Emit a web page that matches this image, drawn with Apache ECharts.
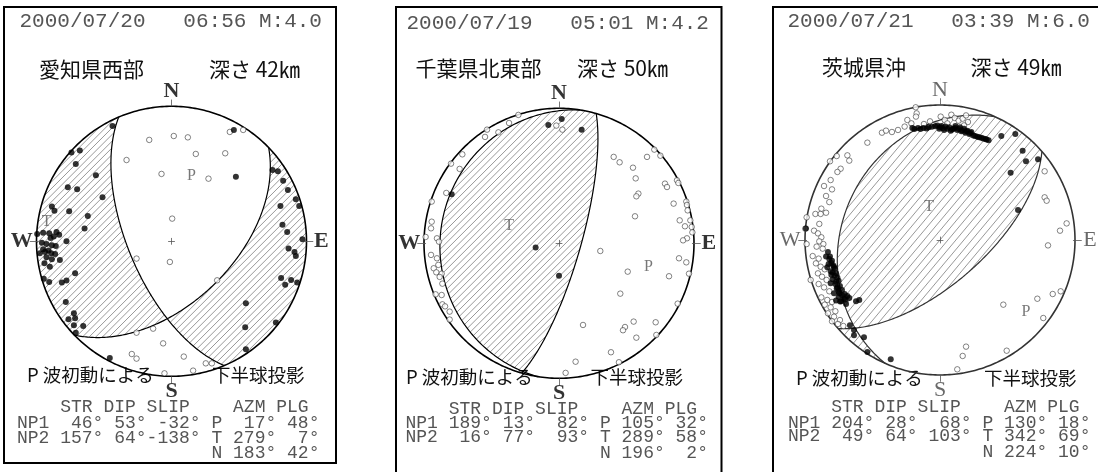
<!DOCTYPE html>
<html><head><meta charset="utf-8">
<script src="https://cdn.jsdelivr.net/npm/echarts@6/dist/echarts.min.js"></script>
<style>html,body{margin:0;padding:0;background:#fff}#c{width:1098px;height:472px}</style>
</head><body><div id="c"></div>
<script>
// ---------- DATA ----------
const dates   = ['2000/07/20', '2000/07/19', '2000/07/21'];
const times   = ['06:56', '05:01', '03:39'];
const mags    = ['4.0', '4.2', '6.0'];
const regions = ['愛知県西部', '千葉県北東部', '茨城県沖'];
const depths  = [42, 50, 49];
// nodal planes [strike, dip, slip]
const np1 = [[46, 53, -32], [189, 13, 82], [204, 28, 68]];
const np2 = [[157, 64, -138], [16, 77, 93], [49, 64, 103]];
// principal axes [azimuth, plunge]
const pAxis = [[17, 48], [105, 32], [130, 18]];
const tAxis = [[279, 7], [289, 58], [342, 69]];
const nAxis = [[183, 42], [196, 2], [224, 10]];
const dirLabels = ['N', 'E', 'S', 'W'];
const tableHead = '    STR DIP SLIP    AZM PLG';
const bottomLeft = 'P 波初動による';
const bottomRight = '下半球投影';

// first-motion observations in projection units (circle radius = 1)
const up1 = [[0.462,0.825],[0.477,0.479],[-0.437,0.854],[-0.741,0.657],[-0.679,0.672],[-0.709,0.573],[-0.560,0.489],
[-0.768,0.400],[-0.699,0.385],[-0.511,0.326],[-0.886,0.257],[-0.867,0.227],[-0.758,0.222],[-0.620,0.188],[-0.644,0.094],
[-0.995,0.054],[-0.951,0.064],[-0.906,0.059],[-0.852,0.069],[-0.832,0.049],[-0.872,0.035],[-0.896,0.025],[-0.960,-0.010],
[-0.926,-0.020],[-0.886,-0.030],[-0.857,-0.035],[-0.951,-0.059],[-0.975,-0.089],[-0.936,-0.079],[-0.911,-0.069],[-0.891,-0.089],
[-0.862,-0.094],[-0.827,-0.138],[-0.926,-0.119],[-0.886,-0.133],[-0.941,-0.163],[-0.901,-0.188],[-0.778,0.000],[-0.946,-0.277],
[-0.906,-0.301],[-0.812,-0.306],[-0.778,-0.291],[-0.714,-0.237],[-0.783,-0.449],[-0.763,-0.578],[-0.723,-0.533],[-0.714,-0.570],
[-0.723,-0.622],[-0.654,-0.627],[-0.709,-0.677],[-0.457,-0.864],
[0.748,0.528],[0.788,0.519],[0.827,0.449],[0.862,0.380],[0.921,0.311],[0.946,0.262],[0.807,0.262],[0.822,0.123],[0.857,0.069],
[0.970,0.015],[0.867,-0.054],[0.911,-0.079],[0.921,-0.109],[0.812,-0.272],[0.842,-0.321],[0.886,-0.286],[0.931,-0.306],
[0.551,-0.459],[0.773,-0.602],[0.546,-0.637],[0.551,-0.800]];
const down1 = [[-0.165,0.751],[0.017,0.780],[0.121,0.770],[-0.333,0.602],[0.180,0.647],[0.398,0.652],[-0.074,0.499],[0.274,0.464],
[0.005,0.168],[-0.012,-0.153],[-0.259,-0.128],[0.338,-0.289],[0.432,0.810],[0.531,0.825],[-0.259,-0.677],[-0.136,-0.647],
[-0.062,-0.756],[-0.294,-0.835],[-0.259,-0.869],[0.091,-0.854],[0.254,-0.904],[0.299,-0.904],[-0.052,-0.978],[0.160,-0.958]];

const up2 = [[-0.079,0.877],[0.020,0.921],[0.168,0.842],[-0.795,0.363],[-0.173,-0.032],[0.000,-0.240]];
const down2 = [[-0.301,0.951],[-0.370,0.891],[-0.533,0.842],[-0.449,0.822],[-0.548,0.788],[-0.716,0.659],[-0.800,0.590],
[-0.736,0.551],[-0.835,0.373],[-0.943,0.309],[-0.943,0.160],[-0.948,0.111],[-0.988,0.047],[-0.904,0.037],[-0.889,0.012],
[-0.948,-0.086],[-0.904,-0.111],[-0.894,-0.160],[-0.928,-0.185],[-0.909,-0.215],[-0.869,-0.225],[-0.884,-0.249],[-0.864,-0.299],
[-0.914,-0.378],[-0.869,-0.383],[-0.864,-0.452],[-0.844,-0.467],[-0.810,-0.506],[-0.810,-0.565],[-0.020,0.872],[0.025,0.842],
[0.405,0.640],[0.449,0.600],[0.652,0.640],[0.706,0.694],[0.751,0.649],[0.548,0.560],[0.568,0.481],[0.785,0.442],[0.800,0.417],
[0.874,0.467],[0.884,0.447],[0.588,0.368],[0.573,0.348],[0.943,0.309],[0.948,0.284],[0.849,0.294],[0.953,0.244],[0.563,0.200],
[0.894,0.170],[0.973,0.170],[0.933,0.126],[0.983,0.121],[0.988,0.081],[0.948,0.037],[0.919,0.022],[0.306,-0.057],[0.889,-0.111],
[0.943,-0.141],[0.963,-0.225],[0.815,-0.244],[0.509,-0.210],[0.454,-0.373],[0.879,-0.447],[0.553,-0.580],[0.716,-0.585],
[0.489,-0.620],[0.474,-0.644],[0.573,-0.699],[0.721,-0.679],[0.178,-0.605],[0.385,-0.807],[0.123,-0.877],[0.444,-0.881],[0.049,-0.960]];

const up3 = [[-0.205,0.830],[-0.163,0.830],[-0.123,0.830],[-0.084,0.835],[-0.020,0.849],[0.010,0.844],[0.040,0.840],[0.069,0.835],
[0.099,0.825],[0.128,0.815],[0.158,0.805],[0.188,0.795],[0.217,0.785],[0.247,0.775],[0.277,0.765],[0.306,0.758],[0.336,0.748],
[0.360,0.738],[-0.005,0.825],[0.030,0.815],[0.079,0.810],[0.114,0.844],[0.148,0.835],[0.178,0.825],[0.202,0.810],[0.232,0.800],
[-0.190,0.822],[-0.145,0.823],[-0.100,0.826],[-0.060,0.838],[-0.035,0.843],[0.000,0.835],[0.020,0.830],[0.055,0.825],[0.090,0.818],
[0.110,0.830],[0.140,0.822],[0.165,0.812],[0.195,0.805],[0.225,0.792],[0.260,0.770],[0.290,0.762],[0.320,0.752],[0.345,0.745],
[0.454,0.770],[0.558,0.785],[0.612,0.662],[0.637,0.583],[0.726,0.598],[0.523,0.499],[0.578,0.222],
[-0.830,-0.089],[-0.815,-0.123],[-0.800,-0.153],[-0.825,-0.178],[-0.790,-0.188],[-0.780,-0.212],[-0.810,-0.232],[-0.770,-0.247],
[-0.760,-0.277],[-0.795,-0.291],[-0.751,-0.301],[-0.775,-0.326],[-0.741,-0.341],[-0.765,-0.360],[-0.726,-0.370],[-0.746,-0.395],
[-0.706,-0.400],[-0.686,-0.415],[-0.672,-0.430],[-0.711,-0.435],[-0.751,-0.420],[-0.810,-0.321],[-0.785,-0.395],[-0.731,-0.454],
[-0.696,-0.474],[-0.844,-0.123],[-0.835,-0.202],[-0.770,-0.449],[-0.805,-0.257],[-0.622,-0.454],[-0.598,-0.444],[-0.637,-0.706],
[-0.820,-0.140],[-0.805,-0.170],[-0.785,-0.200],[-0.795,-0.240],[-0.780,-0.265],[-0.770,-0.310],[-0.760,-0.350],[-0.750,-0.380],
[-0.725,-0.410],[-0.700,-0.440],[-0.740,-0.455],
[-0.563,-0.721],[-0.538,-0.830],[-0.365,-0.884],[-0.637,-0.667],[-0.667,-0.632],[-0.993,0.086]];
const down3 = [[-0.180,0.983],[-0.173,0.938],[-0.178,0.914],[-0.242,0.889],[-0.212,0.864],[-0.430,0.795],[-0.400,0.810],[-0.356,0.800],
[-0.311,0.815],[-0.262,0.840],[-0.538,0.721],[0.005,0.914],[0.035,0.889],[0.084,0.928],[0.109,0.904],[0.138,0.884],[0.168,0.899],
[0.193,0.923],[0.207,0.874],[0.054,0.864],[-0.074,0.879],[-0.119,0.859],[0.178,0.849],
[-0.686,0.627],[-0.765,0.622],[-0.815,0.583],[-0.672,0.588],[-0.736,0.528],[-0.760,0.504],[-0.810,0.444],[-0.859,0.400],[-0.800,0.375],
[-0.844,0.326],[-0.820,0.281],[-0.879,0.232],[-0.923,0.193],[-0.884,0.193],[-0.844,0.202],[-0.988,0.168],[-0.998,0.084],[-0.894,0.119],
[-0.933,0.069],[-0.904,0.049],[-0.879,0.020],[-0.894,-0.010],[-0.864,-0.030],[-0.988,-0.030],[-0.914,-0.049],[-0.869,-0.064],
[-0.943,-0.119],[-0.899,-0.138],[-0.919,-0.173],[-0.884,-0.198],[-0.854,-0.217],[-0.904,-0.247],[-0.874,-0.272],[-0.840,-0.296],
[-0.899,-0.326],[-0.859,-0.351],[-0.820,-0.380],[-0.879,-0.425],[-0.835,-0.444],[-0.800,-0.459],[-0.854,-0.479],[-0.810,-0.499],
[-0.775,-0.528],[-0.830,-0.543],[-0.785,-0.568],[-0.741,-0.593],[-0.800,-0.602],[-0.756,-0.622],[-0.716,-0.637],[-0.958,-0.296],
[0.775,0.509],[0.775,0.316],[0.790,0.291],[0.938,0.123],[0.889,0.069],[0.800,-0.040],[0.894,-0.380],[0.835,-0.400],[0.721,-0.435],
[0.765,-0.578],[0.469,-0.479],[0.494,-0.820],[0.193,-0.790],[0.168,-0.859],[0.128,-0.958]];
const ups = [up1, up2, up3];
const downs = [down1, down2, down3];

// ---------- LAYOUT / STYLE ----------
const R = 135;
const centers = [[171.5, 241.3], [559, 243.3], [940, 240]];
const boxes = [[4, 7, 332, 456], [396, 7, 325.5, 475], [773, 7, 340, 475]];
const hatchStyle = [{ang: 45, sp: 4.7}, {ang: 45, sp: 4.7}, {ang: 50, sp: 6.1}];
const headPos = [[19.5, 21], [406.5, 23], [787.5, 21]];
const titlePos = [[39, 69], [415.5, 68.5], [822, 66.7]];
const depthPos = [[209, 69], [577, 68.5], [970.5, 66.7]];
const botLPos = [[27, 375], [406, 376.7], [796, 378.3]];
const botRPos = [[212, 375], [590.5, 376.7], [984, 378.3]];
const tabX = [17, 405.5, 788];
const tabY = [[407.7, 423, 438.3, 453.6], [409, 423.3, 437.7, 453.3], [407, 423, 436.7, 452.7]];

// ---------- GEOMETRY (lower hemisphere, equal-area) ----------
const D = Math.PI / 180;
const dot = (a, b) => a[0]*b[0] + a[1]*b[1] + a[2]*b[2];
const cross = (a, b) => [a[1]*b[2]-a[2]*b[1], a[2]*b[0]-a[0]*b[2], a[0]*b[1]-a[1]*b[0]];
function axisVec(az, pl) { return [Math.cos(pl*D)*Math.sin(az*D), Math.cos(pl*D)*Math.cos(az*D), Math.sin(pl*D)]; }
function planeVecs(s, d) {
  const sv = [Math.sin(s*D), Math.cos(s*D), 0];
  const a = (s + 90) * D;
  const dv = [Math.cos(d*D)*Math.sin(a), Math.cos(d*D)*Math.cos(a), Math.sin(d*D)];
  return {sv, dv, n: cross(sv, dv)};
}
function proj(v) {
  if (v[2] < 0) v = v.map(c => -c);
  const pl = Math.asin(Math.min(1, v[2]));
  const tr = Math.atan2(v[0], v[1]);
  const r = Math.SQRT2 * Math.sin((Math.PI/2 - pl) / 2);
  return [r*Math.sin(tr), r*Math.cos(tr)];
}
function unproj(x, y) {
  const r = Math.hypot(x, y);
  const i = 2 * Math.asin(Math.min(1, r / Math.SQRT2));
  const tr = Math.atan2(x, y);
  return [Math.sin(i)*Math.sin(tr), Math.sin(i)*Math.cos(tr), Math.cos(i)];
}
function planeCurve(s, d) {
  const {sv, dv} = planeVecs(s, d);
  const pts = [];
  for (let t = 0; t <= 180; t += 1) {
    const c = Math.cos(t*D), sn = Math.sin(t*D);
    pts.push(proj([c*sv[0]+sn*dv[0], c*sv[1]+sn*dv[1], c*sv[2]+sn*dv[2]]));
  }
  return pts;
}
function hatchSegs(i) {
  const n1 = planeVecs(np1[i][0], np1[i][1]).n;
  const n2 = planeVecs(np2[i][0], np2[i][1]).n;
  const T = axisVec(tAxis[i][0], tAxis[i][1]);
  const sgn = Math.sign(dot(T, n1) * dot(T, n2));
  const th = hatchStyle[i].ang * D, sp = hatchStyle[i].sp / R;
  const d = [Math.cos(th), Math.sin(th)], nr = [-Math.sin(th), Math.cos(th)];
  const segs = [];
  const K = Math.floor(1 / sp);
  for (let k = -K; k <= K; k++) {
    const off = k * sp;
    const half = Math.sqrt(Math.max(0, 1 - off*off)) * 0.999;
    let cur = null;
    const N = 500;
    for (let j = 0; j <= N; j++) {
      const t = -half + 2*half*j/N;
      const x = off*nr[0] + t*d[0], y = off*nr[1] + t*d[1];
      const v = unproj(x, y);
      const on = sgn * dot(v, n1) * dot(v, n2) > 0;
      if (on) { if (!cur) cur = [[x, y], [x, y]]; else cur[1] = [x, y]; }
      else if (cur) { segs.push(cur); cur = null; }
    }
    if (cur) segs.push(cur);
  }
  return segs;
}
const circle = [];
for (let a = 0; a <= 360; a += 1) circle.push([Math.sin(a*D), Math.cos(a*D)]);

const pad = (v, w) => String(v).padStart(w);
function tableRows(i) {
  return [
    tableHead,
    'NP1' + pad(np1[i][0],4) + '°' + pad(np1[i][1],3) + '°' + pad(np1[i][2],4) + '° P' + pad(pAxis[i][0],4) + '°' + pad(pAxis[i][1],3) + '°',
    'NP2' + pad(np2[i][0],4) + '°' + pad(np2[i][1],3) + '°' + pad(np2[i][2],4) + '° T' + pad(tAxis[i][0],4) + '°' + pad(tAxis[i][1],3) + '°',
    ' '.repeat(18) + 'N' + pad(nAxis[i][0],4) + '°' + pad(nAxis[i][1],3) + '°'
  ];
}

// ---------- OPTION ----------
const grid = [], xAxis = [], yAxis = [], series = [], graphic = [];
for (let i = 0; i < 3; i++) {
  const [cx, cy] = centers[i];
  grid.push({left: cx - R, top: cy - R, width: 2*R, height: 2*R});
  xAxis.push({gridIndex: i, type: 'value', min: -1, max: 1, show: false});
  yAxis.push({gridIndex: i, type: 'value', min: -1, max: 1, show: false});
  const ax = {xAxisIndex: i, yAxisIndex: i, coordinateSystem: 'cartesian2d', silent: true, animation: false};
  const ink = i === 2 ? '#333' : '#000';
  series.push(Object.assign({type: 'lines', polyline: false, clip: false, z: 1,
    data: hatchSegs(i).map(s => ({coords: s})),
    lineStyle: {color: '#7d7d7d', width: 0.8, opacity: 1}}, ax));
  series.push(Object.assign({type: 'lines', polyline: true, clip: false, z: 2,
    data: [{coords: planeCurve(np1[i][0], np1[i][1])}, {coords: planeCurve(np2[i][0], np2[i][1])}],
    lineStyle: {color: ink, width: 1.2, opacity: 1}}, ax));
  series.push(Object.assign({type: 'lines', polyline: true, clip: false, z: 2,
    data: [{coords: circle}], lineStyle: {color: ink, width: 1.6, opacity: 1}}, ax));
  series.push(Object.assign({type: 'lines', polyline: false, clip: false, z: 2,
    data: [{coords: [[0, 1], [0, 1.05]]}, {coords: [[0, -1], [0, -1.05]]},
           {coords: [[-1.05, 0], [-0.985, 0]]}, {coords: [[1.05, 0], [0.985, 0]]},
           {coords: [[-0.025, 0], [0.025, 0]]}, {coords: [[0, -0.025], [0, 0.025]]}],
    lineStyle: {color: '#555', width: 0.8, opacity: 1}}, ax));
  series.push(Object.assign({type: 'scatter', clip: false, z: 3, symbol: 'circle', symbolSize: 5.5,
    data: downs[i], itemStyle: {color: '#fff', borderColor: '#222', borderWidth: 0.7}}, ax));
  series.push(Object.assign({type: 'scatter', clip: false, z: 4, symbol: 'circle', symbolSize: 6,
    data: ups[i], itemStyle: {color: '#000'}}, ax));
  // P / T labels at projected axes
  const pp = proj(axisVec(pAxis[i][0], pAxis[i][1]));
  const tp = proj(axisVec(tAxis[i][0], tAxis[i][1]));
  series.push(Object.assign({type: 'scatter', clip: false, z: 5, symbolSize: 0,
    data: [{name: 'P', value: pp}, {name: 'T', value: tp}],
    label: {show: true, position: 'inside', formatter: '{b}', color: '#555',
      fontFamily: 'Liberation Serif', fontSize: 16}}, ax));
  // direction letters
  const L = 1.11;
  series.push(Object.assign({type: 'scatter', clip: false, z: 5, symbolSize: 0,
    data: [{name: dirLabels[0], value: [0, L]}, {name: dirLabels[1], value: [L, 0]},
           {name: dirLabels[2], value: [0, -L]}, {name: dirLabels[3], value: [-L, 0]}],
    label: {show: true, position: 'inside', formatter: '{b}', color: i === 2 ? '#444' : '#000',
      fontFamily: 'Liberation Serif', fontSize: 22, fontWeight: i === 2 ? 'normal' : 'bold'}}, ax));

  // box + texts
  const b = boxes[i];
  graphic.push({type: 'rect', shape: {x: b[0], y: b[1], width: b[2], height: b[3]},
    style: {fill: 'none', stroke: '#000', lineWidth: 2}, silent: true});
  const txt = (s, p, font, fill) => graphic.push({type: 'text', silent: true,
    style: {text: s, x: p[0], y: p[1], font: font, fill: fill, align: 'left', verticalAlign: 'middle'}});
  txt(dates[i] + '   ' + times[i] + ' M:' + mags[i], headPos[i], '21px "Liberation Mono"', '#555');
  txt(regions[i], titlePos[i], '21px "Noto Sans CJK JP"', '#111');
  txt('深さ ' + depths[i] + '㎞', depthPos[i], '21px "Noto Sans CJK JP"', '#111');
  txt(bottomLeft, botLPos[i], '18.5px "Noto Sans CJK JP"', '#111');
  txt(bottomRight, botRPos[i], '18.5px "Noto Sans CJK JP"', '#111');
  tableRows(i).forEach((row, k) => txt(row, [tabX[i], tabY[i][k]], '18px "Liberation Mono"', '#555'));
}

const chart = echarts.init(document.getElementById('c'), null, {renderer: 'canvas'});
chart.setOption({animation: false, backgroundColor: '#fff', grid, xAxis, yAxis, series, graphic});
</script>
</body></html>
